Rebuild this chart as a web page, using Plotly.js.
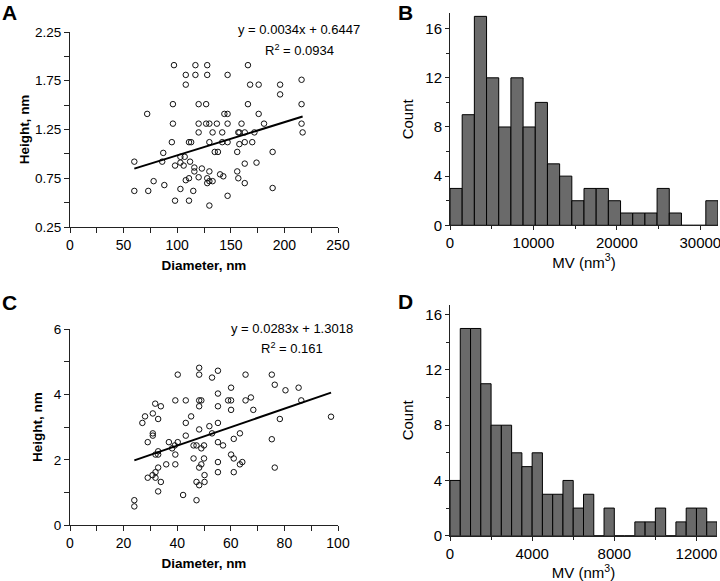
<!DOCTYPE html>
<html>
<head>
<meta charset="utf-8">
<script src="https://cdn.plot.ly/plotly-3.0.1.min.js"></script>
<style>html,body{margin:0;padding:0;background:#fff;}#chart{width:720px;height:581px;}</style>
</head>
<body>
<div id="chart"></div>
<script>
// ---- Panel A: Height vs Diameter (large particles) ----
const diamA = [60,73,78,88,103,108,111,115,98,111,98,103,106,112,116,116,120,87,86,60,95,111,113,96,72,96,97,117,108,117,108,120,120,120,103,107,
  128,166,128,147,216,168,176,196,196,127,166,216,144,147,176,127,130,137,147,160,181,216,133,142,157,158,163,172,217,130,142,147,163,170,158,135,138,156,189,163,174,123,130,140,143,156,128,130,133,128,157,163,189,147,130];
const heightA = [0.62,0.62,0.72,0.68,0.64,0.73,0.75,0.62,0.52,0.52,0.88,0.91,0.88,0.92,0.86,0.82,0.76,1.01,0.92,0.92,1.12,1.12,1.12,1.31,1.41,1.51,1.91,1.91,1.81,1.81,1.71,1.51,1.31,1.22,0.97,0.97,
  1.91,1.91,1.81,1.81,1.76,1.71,1.71,1.71,1.61,1.51,1.51,1.51,1.41,1.41,1.41,1.31,1.31,1.31,1.31,1.31,1.31,1.31,1.22,1.22,1.22,1.22,1.22,1.22,1.22,1.12,1.12,1.12,1.12,1.12,1.10,1.02,1.02,1.02,1.02,0.90,0.91,0.85,0.82,0.79,0.77,0.82,0.75,0.72,0.72,0.70,0.75,0.70,0.65,0.57,0.47];
const fitA = {slope: 0.0034, intercept: 0.6447, r2: '0.0934'};

// ---- Panel C: Height vs Diameter (small particles) ----
const diamC = [48.2,55.2,40.2,48.2,65.5,75.3,53,76.4,60.1,85.3,80.4,55.2,67.5,39.3,43.2,48.2,49,59,60.1,65.5,86.3,31.8,33.9,48.2,55.2,60.1,68.4,30.9,28,45.2,32.9,78.3,27,43.2,55.2,52,48.2,30.9,53,63.4,30.9,43.2,61.1,29,36.9,40.2,55.2,39.1,46.1,47.2,50,57.1,38.1,49,32.9,31.9,32.9,39.3,60.1,46.1,50,61.1,55.2,64.3,35.9,39.3,49,63.4,32.9,48.2,76.4,31.9,55.2,61.1,30.8,50.2,29,31.9,33.9,47.2,50.2,48.2,32.9,42.2,24,47.2,24,97.4,75.3];
const heightC = [4.82,4.73,4.61,4.61,4.61,4.61,4.52,4.30,4.21,4.21,4.13,4.03,3.91,3.82,3.82,3.82,3.82,3.82,3.82,3.82,3.82,3.72,3.64,3.64,3.64,3.53,3.53,3.42,3.33,3.33,3.25,3.25,3.13,3.13,3.13,3.03,2.93,2.81,2.81,2.81,2.74,2.74,2.64,2.54,2.54,2.54,2.54,2.44,2.44,2.44,2.44,2.44,2.35,2.35,2.26,2.16,2.16,2.16,2.16,2.04,2.04,2.04,1.93,1.93,1.86,1.86,1.86,1.86,1.76,1.76,1.76,1.62,1.62,1.62,1.53,1.53,1.45,1.45,1.32,1.32,1.32,1.22,1.03,0.92,0.76,0.76,0.57,3.32,2.63];
const fitC = {slope: 0.0283, intercept: 1.3018, r2: '0.161'};

// ---- Panel B: MV histogram (large) ----
const binStartB = [0,1460,2920,4380,5840,7300,8760,10220,11680,13140,14600,16060,17520,18980,20440,21900,23360,24820,26280,27740,29200,30660];
const countB = [3,9,17,12,8,12,8,10,5,4,2,3,3,2,1,1,1,3,1,0,0,2];
const binWidthB = 1460;

// ---- Panel D: MV histogram (small) ----
const binStartD = [0,500,1000,1500,2000,2500,3000,3500,4000,4500,5000,5500,6000,6500,7000,7500,8000,8500,9000,9500,10000,10500,11000,11500,12000,12500];
const countD = [4,15,15,11,8,8,6,5,6,3,3,4,2,3,0,2,0,0,1,1,2,0,1,2,2,1];
const binWidthD = 500;

const W = 720, H = 581;
const px = v => v / W;
const py = v => 1 - v / H;
const FONT = 'Arial, "Liberation Sans", sans-serif';
const AX = '#222';

function lineTrace(xs, fit, xa, ya) {
  const x0 = Math.min(...xs), x1 = Math.max(...xs);
  return {type: 'scatter', mode: 'lines', x: [x0, x1],
    y: [fit.slope * x0 + fit.intercept, fit.slope * x1 + fit.intercept],
    line: {color: '#000', width: 2}, xaxis: xa, yaxis: ya, hoverinfo: 'skip'};
}
function pts(xs, ys, xa, ya) {
  return {type: 'scatter', mode: 'markers', x: xs, y: ys, xaxis: xa, yaxis: ya,
    marker: {symbol: 'circle-open', size: 5.5, color: '#111', line: {width: 1, color: '#111'}}};
}
function bars(starts, counts, w, xa, ya) {
  return {type: 'bar', x: starts.map(s => s + w / 2), y: counts, width: w, xaxis: xa, yaxis: ya,
    marker: {color: '#6a6a6a', line: {color: '#000', width: 1}}};
}

const traces = [
  pts(diamA, heightA, 'x', 'y'), lineTrace(diamA, fitA, 'x', 'y'),
  bars(binStartB, countB, binWidthB, 'x2', 'y2'),
  pts(diamC, heightC, 'x3', 'y3'), lineTrace(diamC, fitC, 'x3', 'y3'),
  bars(binStartD, countD, binWidthD, 'x4', 'y4')
];

function axBase(extra) {
  return Object.assign({showline: true, linecolor: AX, linewidth: 1, ticks: 'outside', ticklen: 5,
    tickcolor: AX, tickwidth: 1, showgrid: false, zeroline: false, fixedrange: true,
    ticklabeloverflow: 'allow'}, extra);
}

const layout = {
  width: W, height: H, margin: {l: 0, r: 0, t: 0, b: 0}, paper_bgcolor: '#fff', plot_bgcolor: 'rgba(0,0,0,0)',
  showlegend: false, bargap: 0, font: {family: FONT, color: '#000'},
  xaxis: axBase({domain: [px(70), px(338)], range: [0, 250], dtick: 50, tick0: 0, anchor: 'y',
    minor: {dtick: 25, ticks: 'outside', ticklen: 5, tickcolor: AX},
    tickfont: {size: 14}, title: {text: '<b>Diameter, nm</b>', font: {size: 13.5}, standoff: 8}}),
  yaxis: axBase({domain: [py(227), py(32)], range: [0.25, 2.25], dtick: 0.5, tick0: 0.25, tickformat: '.2f', anchor: 'x',
    minor: {dtick: 0.25, ticks: 'outside', ticklen: 5, tickcolor: AX},
    tickfont: {size: 13.5}, title: {text: '<b>Height, nm</b>', font: {size: 13.5}, standoff: 2}}),
  xaxis2: axBase({domain: [px(450), px(718)], range: [0, 32120], dtick: 10000, tick0: 0, tickformat: 'd', anchor: 'y2',
    minor: {dtick: 5000, ticks: 'outside', ticklen: 3, tickcolor: AX}, ticklen: 4,
    tickfont: {size: 15}, title: {text: 'MV (nm<sup>3</sup>)', font: {size: 15}, standoff: 6}}),
  yaxis2: axBase({domain: [py(225.3), py(13.3)], range: [0, 17.25], dtick: 4, tick0: 0, anchor: 'x2',
    minor: {dtick: 2, ticks: 'outside', ticklen: 3, tickcolor: AX}, ticklen: 4,
    tickfont: {size: 15}, title: {text: 'Count', font: {size: 15}, standoff: 8}}),
  xaxis3: axBase({domain: [px(70), px(338)], range: [0, 100], dtick: 20, tick0: 0, anchor: 'y3',
    minor: {dtick: 10, ticks: 'outside', ticklen: 5, tickcolor: AX},
    tickfont: {size: 14}, title: {text: '<b>Diameter, nm</b>', font: {size: 13.5}, standoff: 8}}),
  yaxis3: axBase({domain: [py(525), py(329.3)], range: [0, 6], dtick: 2, tick0: 0, anchor: 'x3',
    minor: {dtick: 1, ticks: 'outside', ticklen: 5, tickcolor: AX},
    tickfont: {size: 13.5}, title: {text: '<b>Height, nm</b>', font: {size: 13.5}, standoff: 8}}),
  xaxis4: axBase({domain: [px(450), px(717)], range: [0, 13000], dtick: 4000, tick0: 0, tickformat: 'd', anchor: 'y4',
    minor: {dtick: 2000, ticks: 'outside', ticklen: 3, tickcolor: AX}, ticklen: 4,
    tickfont: {size: 15}, title: {text: 'MV (nm<sup>3</sup>)', font: {size: 15}, standoff: 2}}),
  yaxis4: axBase({domain: [py(535.7), py(305)], range: [0, 16.7], dtick: 4, tick0: 0, anchor: 'x4',
    minor: {dtick: 2, ticks: 'outside', ticklen: 3, tickcolor: AX}, ticklen: 4,
    tickfont: {size: 15}, title: {text: 'Count', font: {size: 15}, standoff: 8}}),
  annotations: [
    {text: '<b>A</b>', x: px(9), y: py(12), xanchor: 'center', yanchor: 'middle', xref: 'paper', yref: 'paper', showarrow: false, font: {size: 21}},
    {text: '<b>B</b>', x: px(405), y: py(12), xanchor: 'center', yanchor: 'middle', xref: 'paper', yref: 'paper', showarrow: false, font: {size: 21}},
    {text: '<b>C</b>', x: px(9), y: py(303), xanchor: 'center', yanchor: 'middle', xref: 'paper', yref: 'paper', showarrow: false, font: {size: 21}},
    {text: '<b>D</b>', x: px(405), y: py(301), xanchor: 'center', yanchor: 'middle', xref: 'paper', yref: 'paper', showarrow: false, font: {size: 21}},
    {text: 'y = ' + fitA.slope.toFixed(4) + 'x + ' + fitA.intercept.toFixed(4), x: px(299), y: py(30), xanchor: 'center', yanchor: 'middle', xref: 'paper', yref: 'paper', showarrow: false, font: {size: 13}},
    {text: 'R<sup>2</sup> = ' + fitA.r2, x: px(299), y: py(50), xanchor: 'center', yanchor: 'middle', xref: 'paper', yref: 'paper', showarrow: false, font: {size: 13}},
    {text: 'y = ' + fitC.slope.toFixed(4) + 'x + ' + fitC.intercept.toFixed(4), x: px(291.5), y: py(328), xanchor: 'center', yanchor: 'middle', xref: 'paper', yref: 'paper', showarrow: false, font: {size: 13}},
    {text: 'R<sup>2</sup> = ' + fitC.r2, x: px(291.5), y: py(348), xanchor: 'center', yanchor: 'middle', xref: 'paper', yref: 'paper', showarrow: false, font: {size: 13}}
  ]
};

Plotly.newPlot('chart', traces, layout, {staticPlot: true, displayModeBar: false});
</script>
</body>
</html>
